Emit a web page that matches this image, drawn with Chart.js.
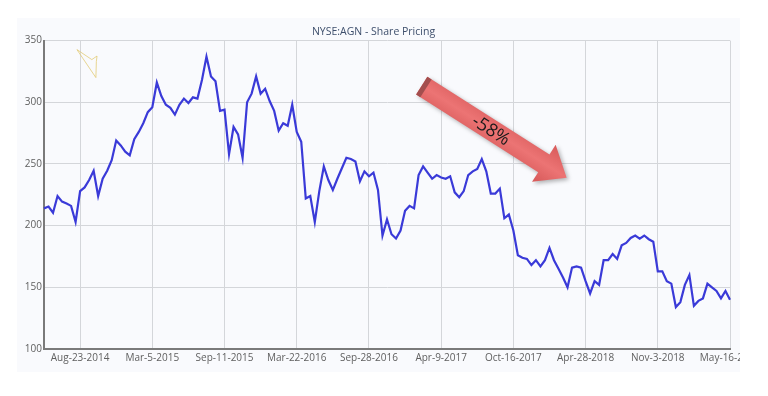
<!DOCTYPE html>
<html>
<head>
<meta charset="utf-8">
<script src="https://cdn.jsdelivr.net/npm/chart.js@4/dist/chart.umd.min.js"></script>
<style>
  html, body { margin: 0; padding: 0; background: #ffffff; }
  #panel {
    position: absolute; left: 17px; top: 18px; width: 723px; height: 354px;
    overflow: hidden; background: #f9fafd;
  }
  #wrap { position: absolute; left: 0; top: 0; width: 760px; height: 354px; }
</style>
</head>
<body>
<div id="panel"><div id="wrap"><canvas id="chart"></canvas></div></div>
<script>
// share price, one point per step (16 steps between date ticks)
const prices = [
  214, 215.5, 210.5, 224, 219.5, 218, 216, 203, 228, 231,
  237, 244.5, 224, 238, 244.5, 253, 269, 265, 260, 257,
  270, 276, 283, 292, 296, 316, 305, 298, 295.5, 290,
  298, 303, 299.4, 304, 303, 318, 337, 321, 317, 293,
  294, 258, 280, 274, 255, 300, 307, 321, 307, 311,
  301, 293, 277, 283, 281, 298, 276, 268, 222, 224,
  203, 228, 248, 237, 229, 238, 246.5, 255, 254, 252,
  236, 244, 240, 243, 229, 192, 205, 193, 189.5, 196,
  212, 216, 214, 241, 248, 243, 238, 241, 239, 238,
  240, 227, 223, 228, 241, 244, 246, 254, 244, 226,
  226, 230, 206, 209, 196, 176, 174, 173, 168, 172,
  167, 172, 182, 172, 165, 158, 150, 166, 167, 166,
  155, 145, 155, 152, 172, 172, 177, 173, 184, 186,
  190, 192, 189.5, 192, 189, 187, 163, 163, 155, 153,
  134, 138, 152, 160, 135, 139, 141, 153, 150, 147,
  141, 147, 140
];
const steps = prices.map((_, i) => i);

const tickLabels = [
  "Aug-23-2014", "Mar-5-2015", "Sep-11-2015", "Mar-22-2016", "Sep-28-2016",
  "Apr-9-2017", "Oct-16-2017", "Apr-28-2018", "Nov-3-2018", "May-16-2019"
];
const firstTick = 8;
const tickStep = 16;

const yMin = 100, yMax = 350, yStep = 50;

// annotation arrow, in data terms (step, price)
const arrowFrom = { i: 83.7, v: 313.5 };
const arrowTo = { i: 115.8, v: 238.8 };
const arrowText = "-58%";

// stray yellow scribble near the top-left
const scribble = [
  { i: 7.3, v: 342.7 }, { i: 10.6, v: 334.6 }, { i: 11.75, v: 337.5 },
  { i: 11.6, v: 333 }, { i: 11.5, v: 320 }, { i: 7.3, v: 342.7 }
];

const annotations = {
  id: "annotations",
  afterDatasetsDraw(chart) {
    const { ctx, scales } = chart;
    const px = p => ({ x: scales.x.getPixelForValue(p.i), y: scales.y.getPixelForValue(p.v) });

    // scribble
    ctx.save();
    ctx.strokeStyle = "rgba(226, 200, 110, 0.75)";
    ctx.lineWidth = 1;
    ctx.beginPath();
    scribble.forEach((p, k) => {
      const q = px(p);
      if (k === 0) ctx.moveTo(q.x, q.y); else ctx.lineTo(q.x, q.y);
    });
    ctx.stroke();
    ctx.restore();

    // arrow
    const a = px(arrowFrom), b = px(arrowTo);
    const dx = b.x - a.x, dy = b.y - a.y;
    const len = Math.hypot(dx, dy);
    const ang = Math.atan2(dy, dx);
    const w = 10.5, hw = 22, hl = 27;

    ctx.save();
    ctx.translate(a.x, a.y);
    ctx.rotate(ang);
    ctx.shadowColor = "rgba(0,0,0,0.3)";
    ctx.shadowBlur = 4;
    ctx.shadowOffsetX = 2;
    ctx.shadowOffsetY = 2;
    const g = ctx.createLinearGradient(0, -hw, 0, hw);
    g.addColorStop(0, "#d85a5a");
    g.addColorStop(0.5, "#ec7474");
    g.addColorStop(1, "#d65858");
    ctx.fillStyle = g;
    ctx.beginPath();
    ctx.moveTo(0, -w);
    ctx.lineTo(len - hl, -w);
    ctx.lineTo(len - hl, -hw);
    ctx.lineTo(len, 0);
    ctx.lineTo(len - hl, hw);
    ctx.lineTo(len - hl, w);
    ctx.lineTo(0, w);
    ctx.closePath();
    ctx.fill();
    ctx.shadowColor = "transparent";
    ctx.fillStyle = "#a34e4e";
    ctx.fillRect(0, -w, 5, 2 * w);

    ctx.fillStyle = "#1a1a1a";
    ctx.font = "18px 'Open Sans', sans-serif";
    ctx.textAlign = "center";
    ctx.textBaseline = "middle";
    ctx.fillText(arrowText, len * 0.48, 1);
    ctx.restore();
  }
};

new Chart(document.getElementById("chart"), {
  type: "line",
  data: {
    labels: steps,
    datasets: [{
      data: prices,
      borderColor: "#3a3ad8",
      borderWidth: 2.2,
      pointRadius: 0,
      tension: 0,
      fill: false
    }]
  },
  options: {
    responsive: true,
    maintainAspectRatio: false,
    animation: false,
    layout: { padding: { left: 0, right: 47, top: 0, bottom: 0 } },
    plugins: {
      legend: { display: false },
      tooltip: { enabled: false },
      title: {
        display: true,
        text: "NYSE:AGN - Share Pricing",
        color: "#3e4f6c",
        font: { family: "'Open Sans', sans-serif", size: 10.5, weight: "normal" },
        padding: { top: 8, bottom: 2 }
      }
    },
    scales: {
      x: {
        type: "category",
        afterBuildTicks(scale) {
          scale.ticks = tickLabels.map((_, k) => ({ value: firstTick + k * tickStep }));
        },
        afterFit(scale) { scale.height = 23; },
        ticks: {
          autoSkip: false,
          maxRotation: 0,
          minRotation: 0,
          padding: 3,
          color: "#606060",
          font: { family: "'Open Sans', sans-serif", size: 10 },
          callback: (val) => tickLabels[(val - firstTick) / tickStep]
        },
        grid: { color: "#d4d6da", lineWidth: 1, drawTicks: false },
        border: { display: true, color: "#7a7a7a", width: 2 }
      },
      y: {
        min: yMin,
        max: yMax,
        afterFit(scale) { scale.width = 27; },
        ticks: {
          stepSize: yStep,
          padding: 2,
          color: "#606060",
          font: { family: "'Open Sans', sans-serif", size: 10 }
        },
        grid: { color: "#d4d6da", lineWidth: 1, drawTicks: false },
        border: { display: true, color: "#7a7a7a", width: 2 }
      }
    }
  },
  plugins: [annotations]
});
</script>
</body>
</html>
